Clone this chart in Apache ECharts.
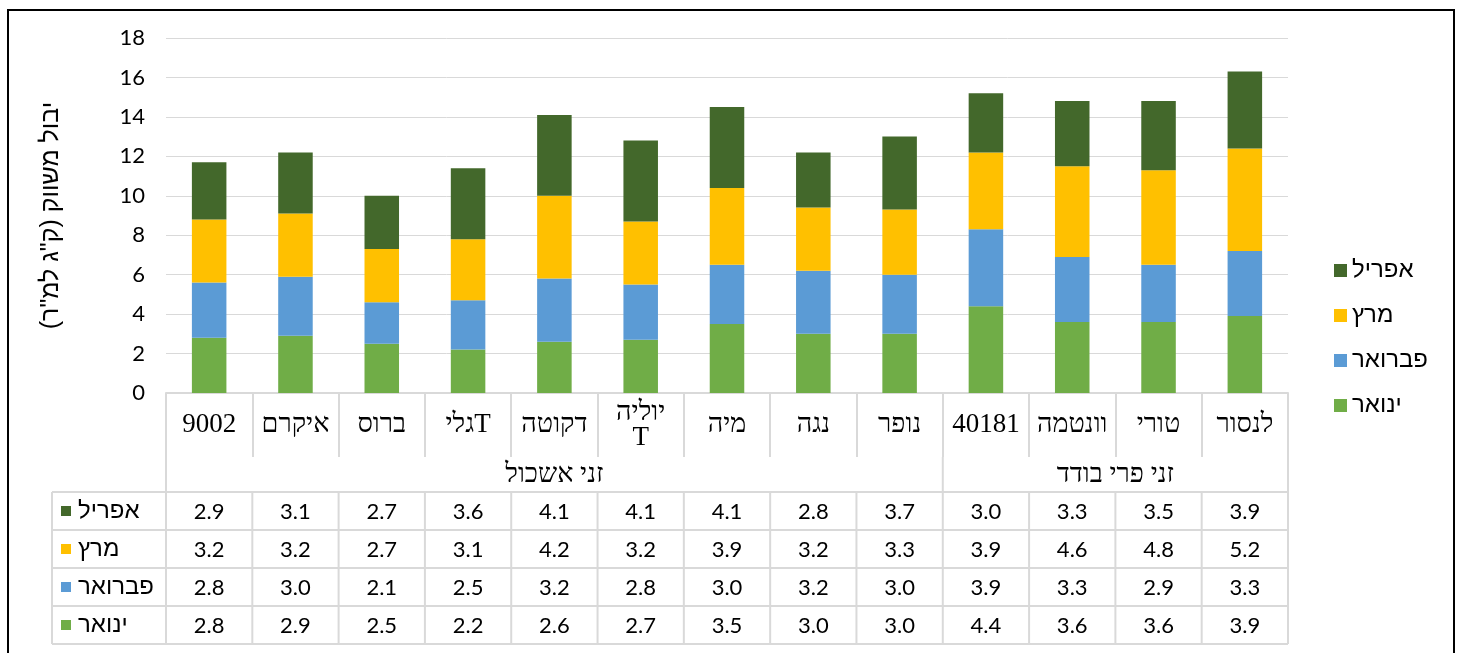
<!DOCTYPE html>
<html><head><meta charset="utf-8">
<script src="https://cdn.jsdelivr.net/npm/echarts@6/dist/echarts.min.js"></script>
<style>html,body{margin:0;padding:0;background:#fff}#c{width:1463px;height:653px}</style>
</head><body><div id="c"></div>
<script>
// ---- data ----
const categories = ['9002','איקרם','ברוס','Tגלי','דקוטה','יוליה T','מיה','נגה','נופר','40181','וונטמה','טורי','לנסור'];
const groupNames = ['זני אשכול','זני פרי בודד'];
const groupSizes = [9, 4];
const janValues = [2.8,2.9,2.5,2.2,2.6,2.7,3.5,3.0,3.0,4.4,3.6,3.6,3.9];
const febValues = [2.8,3.0,2.1,2.5,3.2,2.8,3.0,3.2,3.0,3.9,3.3,2.9,3.3];
const marValues = [3.2,3.2,2.7,3.1,4.2,3.2,3.9,3.2,3.3,3.9,4.6,4.8,5.2];
const aprValues = [2.9,3.1,2.7,3.6,4.1,4.1,4.1,2.8,3.7,3.0,3.3,3.5,3.9];
const seriesNames = ['ינואר','פברואר','מרץ','אפריל'];
const yMin = 0, yMax = 18, yInterval = 2;
const yTitle = 'יבול משווק (ק"ג למ"ר)';

// ---- style ----
const colors = ['#70AD47','#5B9BD5','#FFC000','#43682B'];
const gridColor = '#D9D9D9';
const serif = 'Liberation Serif, DejaVu Serif, serif';
const sans = 'Liberation Sans, DejaVu Sans, sans-serif';
const numFont = 'Lato, Open Sans, sans-serif';
const rtl = s => '\u202B' + s + '\u202C';

const seriesData = [janValues, febValues, marValues, aprValues];
const chart = echarts.init(document.getElementById('c'), null, {renderer:'canvas'});

chart.setOption({
  animation: false,
  backgroundColor: '#fff',
  grid: {left: 166, right: 175, top: 38, bottom: 260, containLabel: false},
  legend: {
    orient: 'vertical', left: 1329, top: 253,
    data: seriesNames.slice().reverse(),
    icon: 'rect', itemWidth: 13, itemHeight: 13, itemGap: 20,
    textStyle: {fontFamily: sans, fontSize: 24, color: '#000', lineHeight: 25}
  },
  xAxis: {
    type: 'category', data: categories,
    axisLine: {show: true, lineStyle: {color: gridColor, width: 2}},
    axisTick: {show: true, length: 64, alignWithLabel: false, lineStyle: {color: gridColor, width: 2}},
    axisLabel: {
      interval: 0, margin: 32, verticalAlign: 'middle',
      fontFamily: serif, fontSize: 27, lineHeight: 25, color: '#000',
      formatter: v => v.split(' ').map(rtl).join('\n')
    }
  },
  yAxis: {
    type: 'value', min: yMin, max: yMax, interval: yInterval,
    name: rtl(yTitle), nameLocation: 'middle', nameGap: 102, nameRotate: 90,
    nameTextStyle: {fontFamily: sans, fontSize: 25, color: '#000'},
    axisLine: {show: false}, axisTick: {show: false},
    axisLabel: {margin: 21, fontFamily: numFont, fontSize: 22, color: '#000'},
    splitLine: {lineStyle: {color: gridColor, width: 1}}
  },
  series: seriesNames.map((n, i) => ({
    name: n, type: 'bar', stack: 'total', barWidth: '40%',
    data: seriesData[i], itemStyle: {color: colors[i]}
  }))
});

function buildTable() {
  const c0 = chart.convertToPixel({xAxisIndex: 0}, 0);
  const c1 = chart.convertToPixel({xAxisIndex: 0}, 1);
  const band = c1 - c0;
  const left = c0 - band / 2;
  const n = categories.length;
  const right = left + band * n;
  const yBase = chart.convertToPixel({yAxisIndex: 0}, 0);
  const catBottom = yBase + 64;
  const tableTop = yBase + 99;
  const rowH = 38;
  const labelLeft = 52;
  const rows = seriesNames.map((name, i) => ({name, data: seriesData[i], color: colors[i]})).reverse();
  const tableBottom = tableTop + rowH * rows.length;
  const ls = {stroke: gridColor, lineWidth: 2};
  const g = [];
  // outer border
  g.push({type: 'rect', shape: {x: 8, y: 10, width: 1446, height: 700}, style: {fill: 'none', stroke: '#000', lineWidth: 2}, silent: true});
  // horizontal row lines
  for (let k = 0; k <= rows.length; k++) {
    const y = tableTop + k * rowH;
    g.push({type: 'line', shape: {x1: labelLeft, y1: y, x2: right, y2: y}, style: ls, silent: true});
  }
  // vertical lines in table
  g.push({type: 'line', shape: {x1: labelLeft, y1: tableTop, x2: labelLeft, y2: tableBottom}, style: ls, silent: true});
  for (let i = 0; i <= n; i++) {
    const x = left + i * band;
    g.push({type: 'line', shape: {x1: x, y1: tableTop, x2: x, y2: tableBottom}, style: ls, silent: true});
  }
  // group boundaries and labels
  let start = 0;
  const bounds = [0];
  groupSizes.forEach((sz, gi) => {
    const gx1 = left + start * band, gx2 = left + (start + sz) * band;
    g.push({type: 'text', x: (gx1 + gx2) / 2, y: yBase + 82,
      style: {text: rtl(groupNames[gi]), fontFamily: serif, fontSize: 27, fill: '#000', align: 'center', verticalAlign: 'middle'}, silent: true});
    start += sz; bounds.push(start);
  });
  bounds.forEach(b => {
    const x = left + b * band;
    g.push({type: 'line', shape: {x1: x, y1: catBottom, x2: x, y2: tableTop}, style: ls, silent: true});
  });
  // rows
  rows.forEach((r, k) => {
    const yc = tableTop + k * rowH + rowH / 2;
    g.push({type: 'rect', shape: {x: 61, y: yc - 5, width: 10, height: 10}, style: {fill: r.color}, silent: true});
    g.push({type: 'text', x: 78, y: yc, style: {text: r.name, fontFamily: sans, fontSize: 24, fill: '#000', align: 'left', verticalAlign: 'middle'}, silent: true});
    r.data.forEach((v, i) => {
      g.push({type: 'text', x: left + (i + 0.5) * band, y: yc + 1,
        style: {text: v.toFixed(1), fontFamily: numFont, fontSize: 22, fill: '#000', align: 'center', verticalAlign: 'middle'}, silent: true});
    });
  });
  chart.setOption({graphic: {elements: g}});
}
buildTable();
</script>
</body></html>
